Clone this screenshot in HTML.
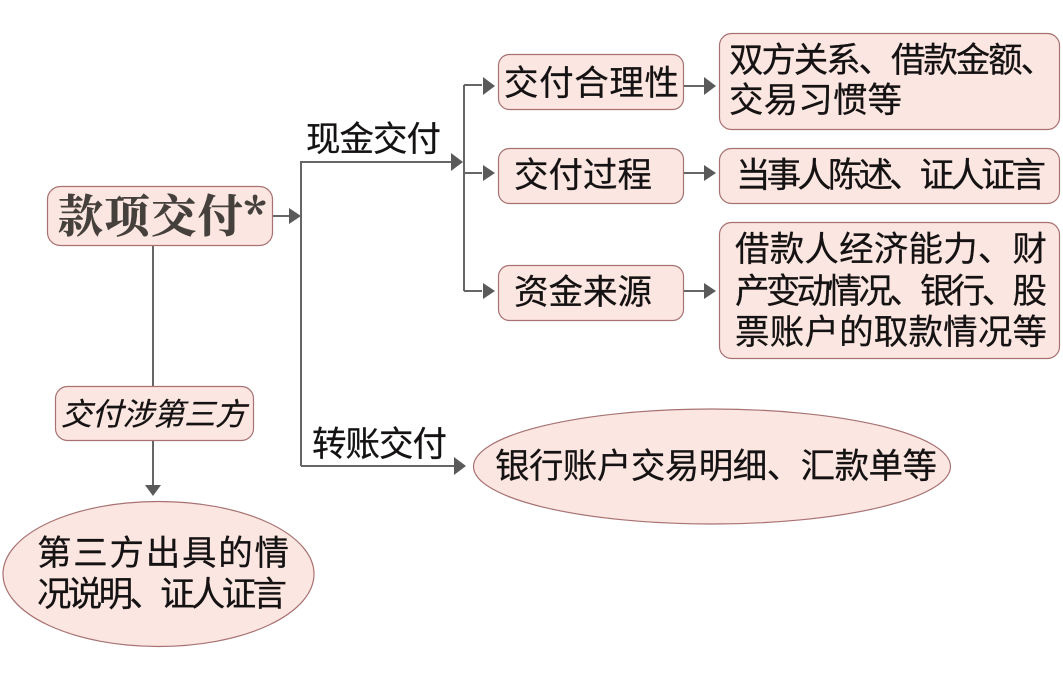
<!DOCTYPE html>
<html lang="zh"><head><meta charset="utf-8"><style>
html,body{margin:0;padding:0;background:#fff;width:1063px;height:683px;overflow:hidden}
svg{display:block}
text{font-family:"Liberation Sans","Noto Sans CJK SC",sans-serif;fill:#141212;font-size:34.5px;stroke:#141212;stroke-width:.25px}
.b{fill:#fce6e1;stroke:#a87272;stroke-width:1.2}
.l{stroke:#666;stroke-width:2;fill:none}
.a{fill:#5a5a5a}
</style></head><body>
<svg width="1063" height="683" viewBox="0 0 1063 683" xmlns="http://www.w3.org/2000/svg">
<!-- connectors -->
<path class="l" d="M273 216H290M301 466V162H452M301 466H454M153 245V386M153 441V485M464 85V291M464 173H482M464 85H482M464 291H482M684 86H704M684 173H704M684 291H704"/>
<path class="a" d="M289 208L301 216L289 224Z"/>
<path class="a" d="M451 153L463 162L451 171Z"/>
<path class="a" d="M454 457L466 466L454 475Z"/>
<path class="a" d="M145 485L153 496L161 485Z"/>
<path class="a" d="M483 77L495 86 483 95Z"/>
<path class="a" d="M483 165L495 173 483 181Z"/>
<path class="a" d="M483 283L495 291 483 299Z"/>
<path class="a" d="M704 77L716 86 704 95Z"/>
<path class="a" d="M704 165L716 173 704 181Z"/>
<path class="a" d="M704 283L716 291 704 299Z"/>
<!-- boxes -->
<rect class="b" x="47.5" y="186.5" width="225" height="59" rx="13"/>
<rect class="b" x="55.5" y="386.5" width="198" height="54" rx="12"/>
<rect class="b" x="498.5" y="54.5" width="185" height="55" rx="11"/>
<rect class="b" x="498.5" y="148.5" width="185" height="55" rx="11"/>
<rect class="b" x="498.5" y="265.5" width="185" height="55" rx="11"/>
<rect class="b" x="719.5" y="33.5" width="340" height="96" rx="12"/>
<rect class="b" x="719.5" y="148.5" width="340" height="55" rx="12"/>
<rect class="b" x="719.5" y="222.5" width="340" height="136" rx="12"/>
<ellipse class="b" cx="712" cy="466.5" rx="238.5" ry="57.5"/>
<ellipse class="b" cx="158.5" cy="574" rx="155.5" ry="72.5"/>
<!-- text -->
<text x="58" y="232" textLength="208" lengthAdjust="spacing" style="font-family:'Noto Serif CJK SC','Liberation Serif',serif;font-weight:700;font-size:45px;fill:#45403c;stroke:#45403c;stroke-width:.5px">款项交付*</text>
<text x="61" y="425" textLength="185" lengthAdjust="spacing" font-style="italic" style="font-size:31px">交付涉第三方</text>
<text x="306" y="151" textLength="135" lengthAdjust="spacing">现金交付</text>
<text x="312" y="456" textLength="135" lengthAdjust="spacing">转账交付</text>
<text x="504" y="95" textLength="175" lengthAdjust="spacing">交付合理性</text>
<text x="514" y="187" textLength="138" lengthAdjust="spacing">交付过程</text>
<text x="514" y="304" textLength="138" lengthAdjust="spacing">资金来源</text>
<text x="729" y="72" textLength="326" lengthAdjust="spacing">双方关系、借款金额、</text>
<text x="729" y="112" textLength="173" lengthAdjust="spacing">交易习惯等</text>
<text x="736" y="187" textLength="310" lengthAdjust="spacing">当事人陈述、证人证言</text>
<text x="735" y="261" textLength="312" lengthAdjust="spacing">借款人经济能力、财</text>
<text x="735" y="303" textLength="312" lengthAdjust="spacing">产变动情况、银行、股</text>
<text x="735" y="344" textLength="312" lengthAdjust="spacing">票账户的取款情况等</text>
<text x="495" y="478" textLength="442" lengthAdjust="spacing">银行账户交易明细、汇款单等</text>
<text x="37" y="565" textLength="252" lengthAdjust="spacing">第三方出具的情</text>
<text x="37" y="606" textLength="250" lengthAdjust="spacing">况说明、证人证言</text>
</svg>
</body></html>
